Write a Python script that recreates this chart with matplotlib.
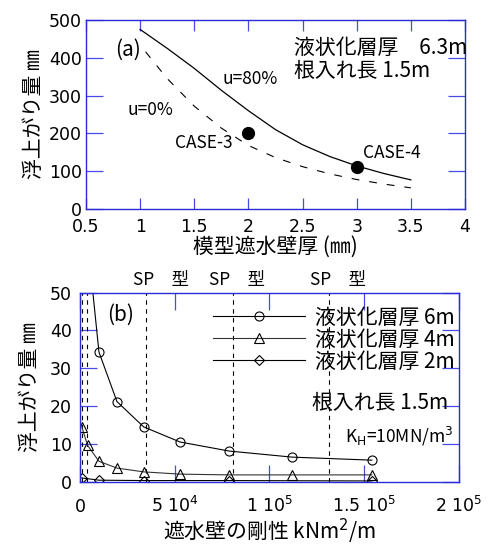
import matplotlib
matplotlib.use("Agg")
import matplotlib.pyplot as plt
from matplotlib.lines import Line2D

plt.rcParams['font.family'] = ['Noto Sans CJK JP', 'DejaVu Sans']
plt.rcParams['mathtext.fontset'] = 'dejavusans'

# --- (a) uplift vs model wall thickness ---
thick_u80 = [1.0, 1.25, 1.5, 1.75, 2.0, 2.25, 2.5, 2.75, 3.0, 3.25, 3.5]
rise_u80 = [475, 425, 372, 314, 260, 210, 170, 139, 114, 94, 77]
thick_u0 = [1.05, 1.25, 1.5, 1.75, 2.0, 2.25, 2.5, 2.75, 3.0, 3.25, 3.5]
rise_u0 = [416, 345, 272, 214, 168, 136, 112, 93, 78, 66, 56]
case_thick = [2.0, 3.0]
case_rise = [202, 112]
case_names = ["CASE-3", "CASE-4"]

# --- (b) uplift vs wall stiffness ---
stiff_6 = [10000, 19500, 33600, 52800, 78800, 112000, 154000]
rise_6 = [34.3, 21.2, 14.5, 10.5, 8.1, 6.5, 5.7]
line6_head = (6800, 50)           # curve leaves the top of the frame here
stiff_4 = [900, 4000, 10000, 19500, 33600, 52800, 78800, 112000, 154000]
rise_4 = [14.6, 9.6, 5.4, 3.6, 2.6, 2.0, 1.8, 1.8, 1.8]
stiff_2 = [900, 10000, 33600, 78800, 154000]
rise_2 = [1.0, 0.4, 0.3, 0.3, 0.2]
sp_lines = [1000, 3500, 35000, 80500, 131500]
sp_label_x = [28000, 68000, 121400]
stiff_ticks = [0, 50000, 100000, 150000, 200000]
stiff_ticklabels = ["0", "5 10$^4$", "1 10$^5$", "1.5 10$^5$", "2 10$^5$"]

SPINE = "#2a2ad6"
TICK = "#4a4ae6"
FS_J = 15
FS_N = 12.5

fig = plt.figure(figsize=(5.02, 5.45), dpi=100)
ax1 = fig.add_axes([86/502, 1-209/545, 379/502, 189/545])
ax2 = fig.add_axes([80/502, 1-481.7/545, 379/502, 189/545])


def frame(ax, xlen, ylen, xpad, ypad):
    for s in ax.spines.values():
        s.set_color(SPINE)
        s.set_linewidth(1.0)
    ax.tick_params(axis='both', direction='in', top=True, right=True,
                   color=TICK, width=0.9, labelsize=FS_N,
                   labelfontfamily='DejaVu Sans')
    ax.tick_params(axis='x', length=xlen, pad=xpad)
    ax.tick_params(axis='y', length=ylen, pad=ypad)


# ---------- (a) ----------
ax1.plot(thick_u80, rise_u80, color="black", lw=0.9)
ax1.plot(thick_u0, rise_u0, color="black", lw=0.8, linestyle=(0, (7, 9)))
ax1.plot(case_thick, case_rise, "o", color="black", ms=8.5)
ax1.set_xlim(0.5, 4)
ax1.set_ylim(0, 500)
ax1.set_xticks([0.5, 1, 1.5, 2, 2.5, 3, 3.5, 4])
ax1.set_xticklabels(["0.5", "1", "1.5", "2", "2.5", "3", "3.5", "4"])
ax1.set_yticks([0, 100, 200, 300, 400, 500])
frame(ax1, 8, 12, 6.5, 3)

ax1.text(0.77, 420, "(a)", fontsize=FS_J, va="center")
ax1.text(1.765, 344, "u=80%", fontsize=FS_N, va="center")
ax1.text(0.88, 262, "u=0%", fontsize=FS_N, va="center")
ax1.text(1.85, 174, case_names[0], fontsize=FS_N, va="center", ha="right")
ax1.text(3.06, 148, case_names[1], fontsize=FS_N, va="center")
ax1.text(2.42, 426, "液状化層厚　6.3m", fontsize=FS_J, va="center")
ax1.text(2.42, 366, "根入れ長 1.5m", fontsize=FS_J, va="center")
ax1.set_xlabel("模型遮水壁厚 (㎜)", fontsize=FS_J, labelpad=0)
ax1.set_ylabel("浮上がり量 ㎜", fontsize=FS_J, labelpad=3)

# ---------- (b) ----------
for xv in sp_lines:
    ax2.axvline(xv, color="black", lw=0.8, linestyle=(0, (4, 4)))
for xv in sp_label_x:
    ax2.text(xv, 53.4, "SP\u3000型", fontsize=FS_N, va="center",
             clip_on=False)

ax2.plot([line6_head[0]] + stiff_6, [line6_head[1]] + rise_6,
         color="black", lw=0.8)
ax2.plot(stiff_6, rise_6, "o", ms=6.5, mfc="none", mec="black", mew=0.8)
ax2.plot(stiff_4, rise_4, color="#333333", lw=0.8)
ax2.plot(stiff_4, rise_4, "^", ms=7, mfc="none", mec="black", mew=0.8)
ax2.plot(stiff_2, rise_2, color="black", lw=0.8)
ax2.plot(stiff_2, rise_2, "D", ms=5.5, mfc="none", mec="black", mew=0.8)

ax2.set_xlim(0, 200000)
ax2.set_ylim(0, 50)
ax2.set_xticks(stiff_ticks)
ax2.set_xticklabels(stiff_ticklabels)
ax2.set_yticks([0, 10, 20, 30, 40, 50])
frame(ax2, 12, 12, 21.5, 6)
for lab in ax2.get_xticklabels():
    lab.set_verticalalignment("baseline")

handles = [
    Line2D([], [], color="black", lw=0.8, marker="o", ms=6.5,
           mfc="none", mec="black", mew=0.8),
    Line2D([], [], color="#333333", lw=0.8, marker="^", ms=7,
           mfc="none", mec="black", mew=0.8),
    Line2D([], [], color="black", lw=0.8, marker="D", ms=5.5,
           mfc="none", mec="black", mew=0.8),
]
ax2.legend(handles, ["液状化層厚 6m", "液状化層厚 4m", "液状化層厚 2m"],
           loc="upper left", bbox_to_anchor=(0.351, 0.926), frameon=False,
           fontsize=FS_J, handlelength=4.4, handletextpad=0.48,
           labelspacing=0.0, borderpad=0, borderaxespad=0)

ax2.text(14250, 44.1, "(b)", fontsize=FS_J, va="center")
ax2.text(122300, 20.8, "根入れ長 1.5m", fontsize=FS_J, va="center")
ax2.text(139800, 12.0, r"K$_{\mathrm{H}}$=10MN/m$^3$", fontsize=FS_N,
         va="center")
ax2.set_xlabel("遮水壁の剛性 kNm$^2$/m", fontsize=FS_J, va="center")
ax2.xaxis.set_label_coords(0.5, (481.7 - 531.5) / 189)
ax2.set_ylabel("浮上がり量 ㎜", fontsize=FS_J, labelpad=6)

fig.savefig("out.png", dpi=100, facecolor="white")
